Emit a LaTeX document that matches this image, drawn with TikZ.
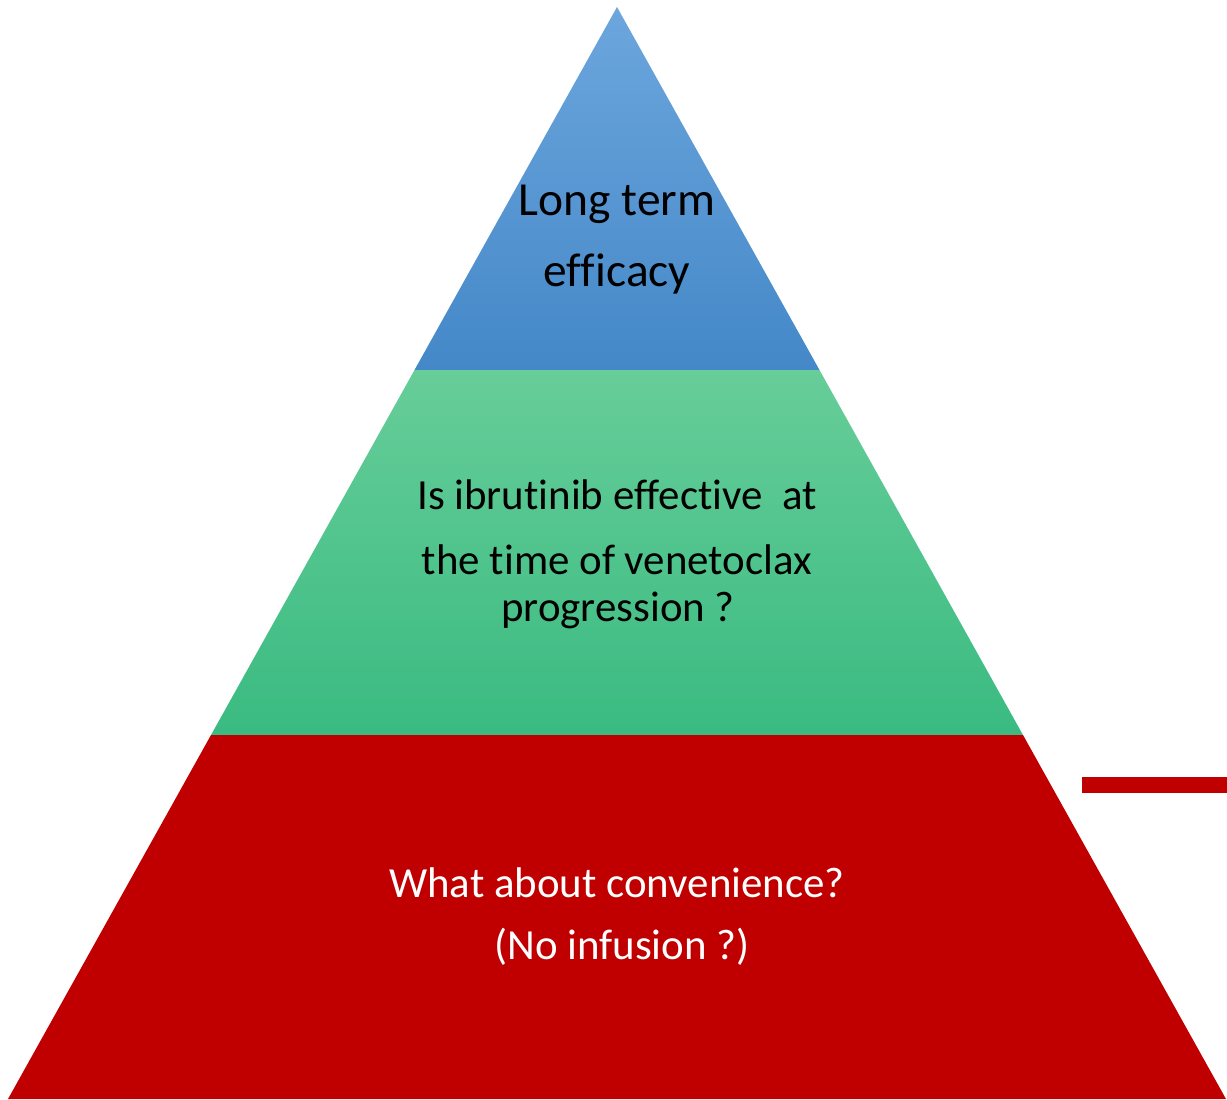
\documentclass[tikz,border=0pt]{standalone}
\usepackage{fontspec}
\setmainfont{Carlito}[Ligatures=NoCommon]

\definecolor{tipTop}{RGB}{108,166,221}
\definecolor{tipBot}{RGB}{68,136,200}
\definecolor{midTop}{RGB}{103,205,153}
\definecolor{midBot}{RGB}{58,187,129}
\definecolor{baseRed}{RGB}{192,0,0}

\tikzset{
  lbl/.style={anchor=base, inner sep=0pt, font=\fontsize{13.5}{16}\selectfont},
  lbls/.style={lbl, font=\fontsize{12.2}{15}\selectfont},
  lblw/.style={lbls, text=white}
}

\begin{document}
\begin{tikzpicture}[x=0.01cm, y=-0.01cm]
        \useasboundingbox (0,0) rectangle (1227,1099);

        % corners of the pyramid and the two cuts
        \coordinate (apex) at (617,7);
        \coordinate (l1) at (414.5,370);
        \coordinate (r1) at (819.5,370);
        \coordinate (l2) at (211,735);
        \coordinate (r2) at (1023,735);
        \coordinate (bl) at (8,1099);
        \coordinate (br) at (1226,1099);

        \shade[top color=tipTop, bottom color=tipBot] (apex) -- (r1) -- (l1) -- cycle;
        \shade[top color=midTop, bottom color=midBot] (l1) -- (r1) -- (r2) -- (l2) -- cycle;
        \fill[baseRed] (l2) -- (r2) -- (br) -- (bl) -- cycle;

        % bar on the right
        \coordinate (barA) at (1082,777);
        \coordinate (barB) at (1227,793);
        \fill[baseRed] (barA) rectangle (barB);

        \node[lbl] (tip1) at (617,215) {Long term};
        \node[lbl] (tip2) at (617,286) {efficacy};

        \node[lbls] (mid1) at (617,509) {Is ibrutinib effective~ at};
        \node[lbls] (mid2) at (617,574) {the time of venetoclax};
        \node[lbls] (mid3) at (618,621) {progression ?};

        \node[lblw] (base1) at (617,897) {What about convenience?};
        \node[lblw] (base2) at (622,959) {(No infusion ?)};
    \end{tikzpicture}
\end{document}
